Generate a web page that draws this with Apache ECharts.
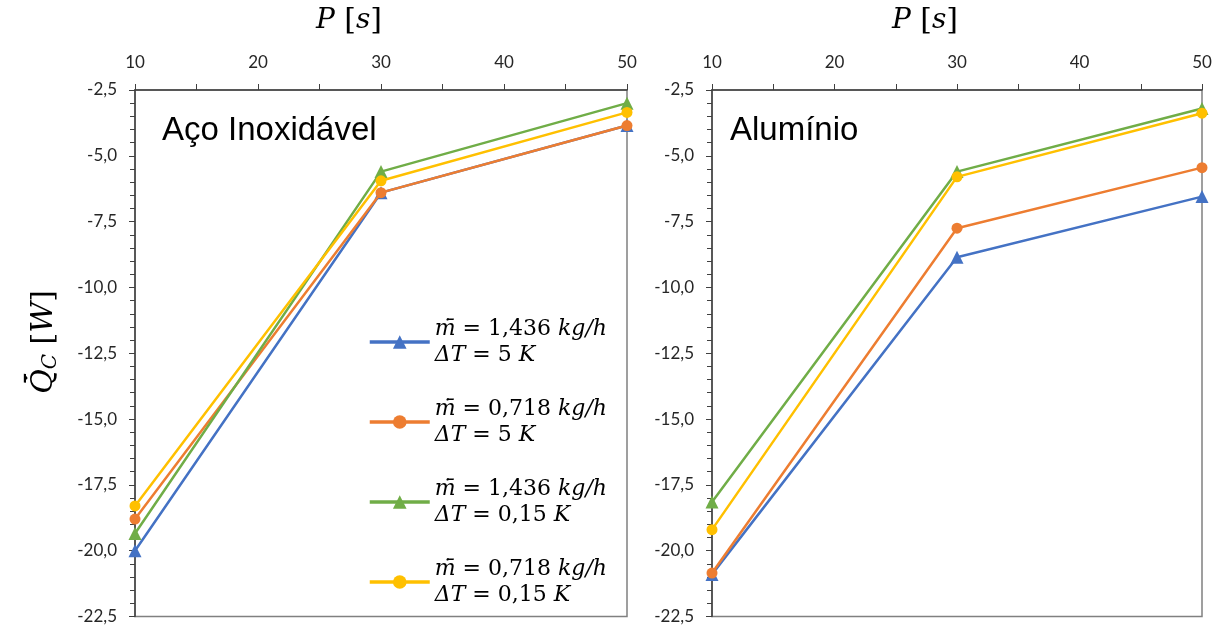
<!DOCTYPE html>
<html>
<head>
<meta charset="utf-8">
<script src="https://cdn.jsdelivr.net/npm/echarts@6/dist/echarts.min.js"></script>
<style>html,body{margin:0;padding:0;background:#fff;}#c{width:1224px;height:625px;}</style>
</head>
<body>
<div id="c"></div>
<script>
// ---- data ----
const xValues = [10, 30, 50];
const seriesNames = ['m1436_dT5', 'm0718_dT5', 'm1436_dT015', 'm0718_dT015'];
const legendMass = ['1,436', '0,718', '1,436', '0,718'];
const legendDeltaT = ['5', '5', '0,15', '0,15'];
const panelTitles = ['Aço Inoxidável', 'Alumínio'];
const yTicks = [-22.5, -20, -17.5, -15, -12.5, -10, -7.5, -5, -2.5];

// Aço Inoxidável
const inox_m1436_dT5   = [-20.0, -6.4, -3.85];
const inox_m0718_dT5   = [-18.8, -6.4, -3.85];
const inox_m1436_dT015 = [-19.35, -5.6, -3.0];
const inox_m0718_dT015 = [-18.3, -5.95, -3.35];
// Alumínio
const alu_m1436_dT5   = [-20.9, -8.85, -6.55];
const alu_m0718_dT5   = [-20.85, -7.75, -5.45];
const alu_m1436_dT015 = [-18.15, -5.6, -3.2];
const alu_m0718_dT015 = [-19.2, -5.8, -3.38];

const colors = ['#4472C4', '#ED7D31', '#70AD47', '#FFC000'];
const symbols = ['triangle', 'circle', 'triangle', 'circle'];

const panels = [
  [inox_m1436_dT5, inox_m0718_dT5, inox_m1436_dT015, inox_m0718_dT015],
  [alu_m1436_dT5, alu_m0718_dT5, alu_m1436_dT015, alu_m0718_dT015]
];

const chart = echarts.init(document.getElementById('c'));
const fmt = v => v.toFixed(1).replace('.', ',');
const axisColor = '#404040';
const labelFont = { fontFamily: 'Lato', fontSize: 17, color: '#262626' };

const grids = [
  { left: 135, top: 90, width: 492, height: 532 },
  { left: 712, top: 90, width: 490, height: 532 }
].map(g => Object.assign(g, { show: true, borderColor: '#808080', borderWidth: 1.5, backgroundColor: 'transparent' }));

const xAxes = [0, 1].map(i => ({
  gridIndex: i, type: 'value', position: 'top', min: 10, max: 50, interval: 10,
  axisLine: { show: true, lineStyle: { color: axisColor, width: 1.5 } },
  axisTick: { show: true, inside: false, length: 6, lineStyle: { color: axisColor } },
  minorTick: { show: true, splitNumber: 2, length: 6, lineStyle: { color: axisColor } },
  splitLine: { show: false },
  axisLabel: Object.assign({ margin: 19 }, labelFont)
}));

const yAxes = [0, 1].map(i => ({
  gridIndex: i, type: 'value', min: yTicks[0], max: yTicks[yTicks.length - 1], interval: 2.5,
  axisLine: { show: true, onZero: false, lineStyle: { color: axisColor, width: 1.5 } },
  axisTick: { show: true, inside: false, length: 6, lineStyle: { color: axisColor } },
  minorTick: { show: true, splitNumber: 5, length: 5, lineStyle: { color: axisColor } },
  splitLine: { show: false },
  axisLabel: Object.assign({ margin: 18, formatter: fmt }, labelFont)
}));

const series = [];
panels.forEach((p, pi) => {
  p.forEach((vals, si) => {
    series.push({
      name: seriesNames[si], type: 'line', xAxisIndex: pi, yAxisIndex: pi,
      data: xValues.map((x, k) => [x, vals[k]]),
      symbol: symbols[si], symbolSize: symbols[si] === 'triangle' ? 13 : 11,
      lineStyle: { color: colors[si], width: 2.5 },
      itemStyle: { color: colors[si] },
      emphasis: { disabled: true },
      z: 2 + si
    });
  });
});

const serif = 'DejaVu Serif';
const lfs = 22;
const legendRich = {
  i: { fontFamily: serif, fontStyle: 'italic', fontSize: lfs, lineHeight: 26, color: '#000' },
  n: { fontFamily: serif, fontSize: lfs, lineHeight: 26, color: '#000' }
};

chart.setOption({
  animation: false,
  backgroundColor: '#fff',
  grid: grids,
  xAxis: xAxes,
  yAxis: yAxes,
  series: series,
  legend: {
    data: seriesNames,
    orient: 'vertical', left: 363, top: 311,
    itemWidth: 60, itemHeight: 17, itemGap: 28,
    selectedMode: false,
    lineStyle: { width: 3.5 },
    textStyle: { fontFamily: serif, fontSize: lfs, lineHeight: 26, color: '#000', rich: legendRich },
    formatter: name => {
      const k = seriesNames.indexOf(name);
      return '{i|m\u0307\u0304}{n| = ' + legendMass[k] + ' }{i|kg/h}\n{i|\u0394T}{n| = ' + legendDeltaT[k] + ' }{i|K}';
    }
  },
  graphic: [
    { type: 'text', left: 162, top: 114, style: { text: panelTitles[0], font: '33px "Liberation Sans"', fill: '#000' } },
    { type: 'text', left: 730, top: 114, style: { text: panelTitles[1], font: '33px "Liberation Sans"', fill: '#000' } },
    { type: 'text', x: 349, y: 21, style: { text: '{i|P}{n| [}{i|s}{n|]}', align: 'center', verticalAlign: 'middle',
      rich: { i: { fontFamily: serif, fontStyle: 'italic', fontSize: 28, fill: '#000' }, n: { fontFamily: serif, fontSize: 30, fill: '#000' } } } },
    { type: 'text', x: 925, y: 21, style: { text: '{i|P}{n| [}{i|s}{n|]}', align: 'center', verticalAlign: 'middle',
      rich: { i: { fontFamily: serif, fontStyle: 'italic', fontSize: 28, fill: '#000' }, n: { fontFamily: serif, fontSize: 30, fill: '#000' } } } },
    { type: 'text', x: 44, y: 342, rotation: Math.PI / 2, style: { text: '{i|Q\u0307\u0304}{s|C}{n| [}{i|W}{n|]}', align: 'center', verticalAlign: 'middle',
      rich: { i: { fontFamily: serif, fontStyle: 'italic', fontSize: 30, fill: '#000' }, s: { fontFamily: serif, fontStyle: 'italic', fontSize: 20, fill: '#000', padding: [14, 0, 0, 0] }, n: { fontFamily: serif, fontSize: 30, fill: '#000' } } } }
  ]
});
</script>
</body>
</html>
